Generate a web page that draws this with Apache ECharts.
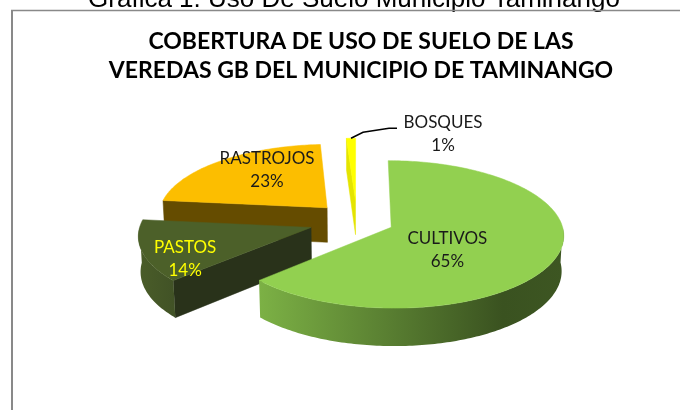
<!DOCTYPE html>
<html>
<head>
<meta charset="utf-8">
<script src="https://cdn.jsdelivr.net/npm/echarts@6/dist/echarts.min.js"></script>
<style>
  html, body { margin: 0; padding: 0; background: #fff; }
  #grafica { width: 680px; height: 410px; }
</style>
</head>
<body>
<div id="grafica"></div>
<script>
// datos de la grafica
var categorias = ['CULTIVOS', 'PASTOS', 'RASTROJOS', 'BOSQUES'];
var valores = [65, 14, 23, 1];
var tituloLineas = ['COBERTURA DE USO DE SUELO DE LAS', 'VEREDAS GB DEL MUNICIPIO DE TAMINANGO'];
var leyendaFigura = 'Grafica 1. Uso De Suelo Municipio Taminango';

// estilos por sector
var colorCara = ['#92D050', '#4C6029', '#FCBE00', '#FFFF00'];
var colorPared = ['#3b5321', '#29321a', '#654c00', '#e4e400'];
var colorBorde = [
  [[0, '#7cb145'], [0.8, '#3a5220'], [1, '#3d5622']],
  [[0, '#4a5d29'], [1, '#415226']],
  [[0, '#b08600'], [1, '#7a5c00']],
  [[0, '#e6e600'], [1, '#c8c800']]
];
var colorTexto = ['#1a1a1a', '#ffff00', '#1a1a1a', '#1a1a1a'];
var separacion = [37, 48, 44, 50];     // explosion de cada sector
var ordenDibujo = [4, 3, 1, 2];        // de atras hacia adelante
var etiquetaPos = [[0.35, 12], [0.75, 14], [0.55, -11], [1, 0]];
var etiquetaFuera = [false, false, false, true];

// geometria del pastel 3D
var CX = 357, CY = 221, R = 170, ALTO = 39;
var INCL = 25 * Math.PI / 180, DIST = 1620;

function proyectar(X, Z, Y) {
  var u = Y * Math.cos(INCL) - Z * Math.sin(INCL);
  var w = Y * Math.sin(INCL) + Z * Math.cos(INCL);
  var s = DIST / (DIST - w);
  return [CX + X * s, CY - u * s];
}

// angulos acumulados (sentido horario desde las 12)
var total = valores.reduce(function(a, b) { return a + b; }, 0);
var inicio = [], fin = [];
var acum = 0;
valores.forEach(function(v) {
  inicio.push(acum / total * 2 * Math.PI);
  acum += v;
  fin.push(acum / total * 2 * Math.PI);
});

function dibujarSector(params, api) {
  var i = params.dataIndex;
  var v = api.value(0);
  var a0 = inicio[i], a1 = fin[i], med = (a0 + a1) / 2;
  var ox = separacion[i] * Math.sin(med), oz = -separacion[i] * Math.cos(med);
  function punto(a, r, y) {
    return proyectar(ox + r * Math.sin(a), oz - r * Math.cos(a), y);
  }
  function arco(b0, b1, y) {
    var pts = [];
    var n = Math.max(2, Math.ceil((b1 - b0) / (Math.PI / 180)));
    for (var k = 0; k <= n; k++) pts.push(punto(b0 + (b1 - b0) * k / n, R, y));
    return pts;
  }
  var z = ordenDibujo[i] * 10;
  var hijos = [];

  // paredes de los cortes (solo las que miran al frente)
  [[a0, Math.sin(a0) < -1e-6], [a1, Math.sin(a1) > 1e-6]].forEach(function(p) {
    if (!p[1]) return;
    hijos.push({
      type: 'polygon', z2: z + 1,
      shape: { points: [punto(0, 0, 0), punto(p[0], R, 0), punto(p[0], R, -ALTO), punto(0, 0, -ALTO)] },
      style: { fill: colorPared[i], stroke: colorPared[i], lineWidth: 0.5 }
    });
  });

  // pared curva exterior
  var b0 = Math.max(a0, Math.PI / 2), b1 = Math.min(a1, 1.5 * Math.PI);
  if (b1 > b0) {
    var sup = arco(b0, b1, 0), inf = arco(b0, b1, -ALTO).reverse();
    hijos.push({
      type: 'polygon', z2: z + 2,
      shape: { points: sup.concat(inf) },
      style: {
        fill: new echarts.graphic.LinearGradient(0, 0, 1, 0, colorBorde[i].map(function(c) {
          return { offset: c[0], color: c[1] };
        }))
      }
    });
  }

  // cara superior
  hijos.push({
    type: 'polygon', z2: z + 3,
    shape: { points: [punto(0, 0, 0)].concat(arco(a0, a1, 0)) },
    style: { fill: colorCara[i], stroke: colorCara[i], lineWidth: 0.5 }
  });

  // etiqueta
  var texto = categorias[i] + '\n' + v + '%';
  var estiloTexto = {
    text: texto, fill: colorTexto[i], font: '17px Lato',
    align: 'center', verticalAlign: 'middle',
    textAlign: 'center', textVerticalAlign: 'middle', lineHeight: 23
  };
  if (etiquetaFuera[i]) {
    var p0 = punto(med, R, 0);
    hijos.push({
      type: 'polyline', z2: 100,
      shape: { points: [p0, [p0[0] + 12, p0[1] - 6], [p0[0] + 38, p0[1] - 10], [p0[0] + 46, p0[1] - 10]] },
      style: { stroke: '#000', lineWidth: 1.5, fill: null }
    });
    estiloTexto.x = p0[0] + 92;
    estiloTexto.y = p0[1] - 4;
  } else {
    var pe = punto(med, R * etiquetaPos[i][0], 0);
    estiloTexto.x = pe[0];
    estiloTexto.y = pe[1] + etiquetaPos[i][1];
  }
  hijos.push({ type: 'text', z2: 100, style: estiloTexto });

  return { type: 'group', children: hijos };
}

var grafica = echarts.init(document.getElementById('grafica'));

var opcion = {
  backgroundColor: '#fff',
  animation: false,
  title: {
    text: tituloLineas.join('\n'),
    left: 356,
    top: 22,
    textAlign: 'center',
    textStyle: {
      fontFamily: 'Lato', fontWeight: 'bold', fontSize: 23,
      lineHeight: 29, color: '#000'
    }
  },
  graphic: [
    {
      type: 'text', x: 354, y: 13, silent: true,
      style: {
        text: leyendaFigura, font: '26px "Liberation Sans"', fill: '#000',
        textAlign: 'center', textVerticalAlign: 'bottom', align: 'center', verticalAlign: 'bottom'
      }
    },
    { type: 'line', silent: true, shape: { x1: 11, y1: 10.5, x2: 700, y2: 10.5 }, style: { stroke: '#898989', lineWidth: 1.3 } },
    { type: 'line', silent: true, shape: { x1: 12, y1: 10, x2: 12, y2: 420 }, style: { stroke: '#898989', lineWidth: 2 } }
  ],
  series: [{
    type: 'custom',
    coordinateSystem: 'none',
    silent: true,
    renderItem: dibujarSector,
    data: valores.map(function(v, i) { return { name: categorias[i], value: v }; })
  }]
};

grafica.setOption(opcion);
</script>
</body>
</html>
